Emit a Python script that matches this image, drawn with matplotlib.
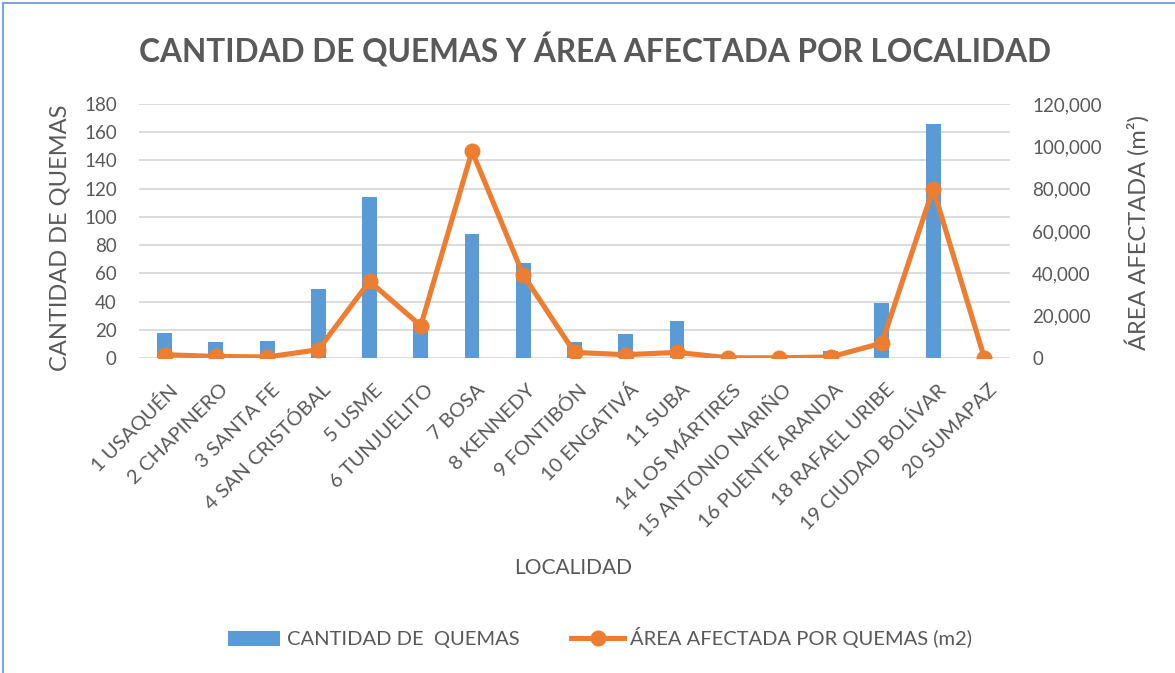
import matplotlib
matplotlib.use("Agg")
import matplotlib.pyplot as plt
from matplotlib.lines import Line2D
from matplotlib.patches import Patch
from matplotlib.transforms import ScaledTranslation
import numpy as np

plt.rcParams['font.family'] = ['Lato', 'DejaVu Sans']

localidades = ["1 USAQUÉN", "2 CHAPINERO", "3 SANTA FE", "4 SAN CRISTÓBAL", "5 USME",
               "6 TUNJUELITO", "7 BOSA", "8 KENNEDY", "9 FONTIBÓN", "10 ENGATIVÁ",
               "11 SUBA", "14 LOS MÁRTIRES", "15 ANTONIO NARIÑO", "16 PUENTE ARANDA",
               "18 RAFAEL URIBE", "19 CIUDAD BOLÍVAR", "20 SUMAPAZ"]
cantidad_quemas = [18, 11, 12, 49, 114, 25, 88, 67, 11, 17, 26, 0, 0, 5, 39, 166, 0]
area_afectada = [1560, 750, 470, 3900, 36200, 15250, 97700, 39200, 2640, 1560,
                 2640, 100, 100, 470, 7080, 80000, 50]

left_ticks = list(range(0, 181, 20))
right_ticks = list(range(0, 120001, 20000))

GRAY = "#595959"
BLUE = "#5B9BD5"
ORANGE = "#ED7D31"

fig = plt.figure(figsize=(11.75, 6.73), dpi=100)
ax = fig.add_axes([139/1175, 1 - 358/673, 871/1175, 254/673])
ax2 = ax.twinx()

x = np.arange(len(localidades))
ax.bar(x, cantidad_quemas, width=0.29, color=BLUE, zorder=2)
ax2.plot(x, area_afectada, color=ORANGE, lw=3.7, marker="o", ms=10.5,
         solid_joinstyle="round", zorder=3)

ax.set_xlim(-0.5, len(localidades) - 0.5)
ax.set_ylim(0, 180)
ax2.set_ylim(0, 120000)
ax.set_yticks(left_ticks)
ax2.set_yticks(right_ticks)
ax2.set_yticklabels([f"{v:,}" for v in right_ticks])
ax.yaxis.grid(True, color="#D9D9D9", lw=1.3, zorder=0)
ax.set_axisbelow(True)

for a in (ax, ax2):
    for s in a.spines.values():
        s.set_visible(False)
    a.tick_params(length=0, labelsize=13.5, labelcolor=GRAY, pad=16)

ax.set_xticks(x)
ax.set_xticklabels(localidades, rotation=45, ha="right", va="center",
                   rotation_mode="anchor", fontsize=14.5)
ax.tick_params(axis="x", pad=21)
# nudge the slanted labels so their ends sit just right of each tick
for lbl in ax.get_xticklabels():
    lbl.set_transform(lbl.get_transform() + ScaledTranslation(7/72, 0, fig.dpi_scale_trans))

fig.text(595/1175, 1 - 50/673, "CANTIDAD DE QUEMAS Y ÁREA AFECTADA POR LOCALIDAD",
         ha="center", va="center", fontsize=22.8, fontweight="bold", color=GRAY)
fig.text(60/1175, 1 - 238/673, "CANTIDAD DE QUEMAS", rotation=90, ha="center",
         va="center", fontsize=17, color=GRAY)
fig.text(1137/1175, 1 - 232/673, "ÁREA AFECTADA (m²)", rotation=90, ha="center",
         va="center", fontsize=17, color=GRAY)
fig.text(573/1175, 1 - 568/673, "LOCALIDAD", ha="center", va="center",
         fontsize=15, color=GRAY)

handles = [Patch(facecolor=BLUE),
           Line2D([], [], color=ORANGE, lw=3.7, marker="o", ms=10.5)]
leg = fig.legend(handles, ["CANTIDAD DE  QUEMAS", "ÁREA AFECTADA POR QUEMAS (m2)"],
                 loc="center", bbox_to_anchor=(600/1175, 1 - 638/673), ncol=2,
                 frameon=False, fontsize=14.5, handlelength=2.6,
                 handletextpad=0.3, columnspacing=2.6)
for t in leg.get_texts():
    t.set_color(GRAY)

# chart area border (left and top edges)
fig.add_artist(Line2D([3/1175, 3/1175], [0, 1 - 3/673], color="#7EA6D8", lw=1.5))
fig.add_artist(Line2D([3/1175, 1], [1 - 3/673, 1 - 3/673], color="#7EA6D8", lw=1.5))

fig.savefig("out.png", dpi=100, facecolor="white")
